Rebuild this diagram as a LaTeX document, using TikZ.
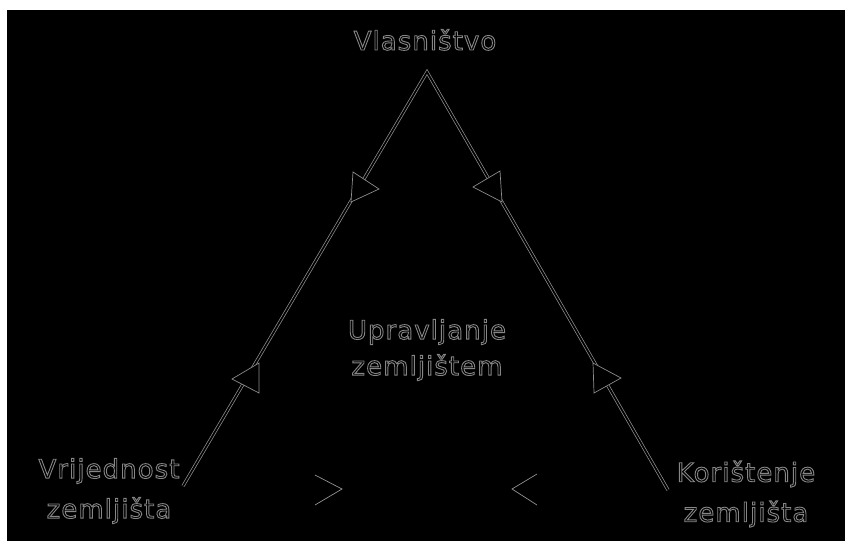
\documentclass[tikz,border=0pt]{standalone}
\usepackage{fontspec}
\setmainfont[LetterSpace=4]{DejaVu Sans}

% outlined letters (stroke only)
\newcommand\outl[1]{\special{pdf:literal direct 1 Tr 0.9 w}#1\special{pdf:literal direct 0 Tr}}

\begin{document}
\begin{tikzpicture}[x=1pt, y=-1pt,
  lbl/.style={text=gray!95, font=\fontsize{26}{40}\selectfont, align=center, inner sep=0pt},
  edge/.style={draw=gray!85, line width=0.7pt, double=black, double distance=1.8pt, line join=miter},
  head/.style={draw=gray!90, fill=black, line width=0.7pt, line join=miter}]
\useasboundingbox (0,0) rectangle (845,541);
\fill[white] (0,0) rectangle (845,541);
\fill[black] (7,10) rectangle (845,541);

\coordinate (top) at (427,72);
\coordinate (val) at (183,486);
\coordinate (use) at (668,490);

\node[lbl, anchor=base] (own) at (425,50) {\outl{Vlasništvo}};
\node[lbl, font=\fontsize{26}{36}\selectfont] (mgmt) at (427,350) {\outl{Upravljanje}\\\outl{zemljištem}};
\node[lbl] (value) at (109,491) {\outl{Vrijednost}\\\outl{zemljišta}};
\node[lbl] (usage) at (746,494) {\outl{Korištenje}\\\outl{zemljišta}};

\draw[edge] (val) -- (top) -- (use);

\draw[head] (353,172) -- (379,189) -- (351,202) -- cycle;
\draw[head] (500,171) -- (473,187) -- (502,202) -- cycle;
\draw[head] (259,363) -- (232,379) -- (259,393) -- cycle;
\draw[head] (593,363) -- (621,378) -- (594,393) -- cycle;

\draw[gray!85, line width=0.7pt] (315,475) -- (342,489) -- (315,505);
\draw[gray!85, line width=0.7pt] (537,474) -- (512,489) -- (537,505);
\end{tikzpicture}
\end{document}
